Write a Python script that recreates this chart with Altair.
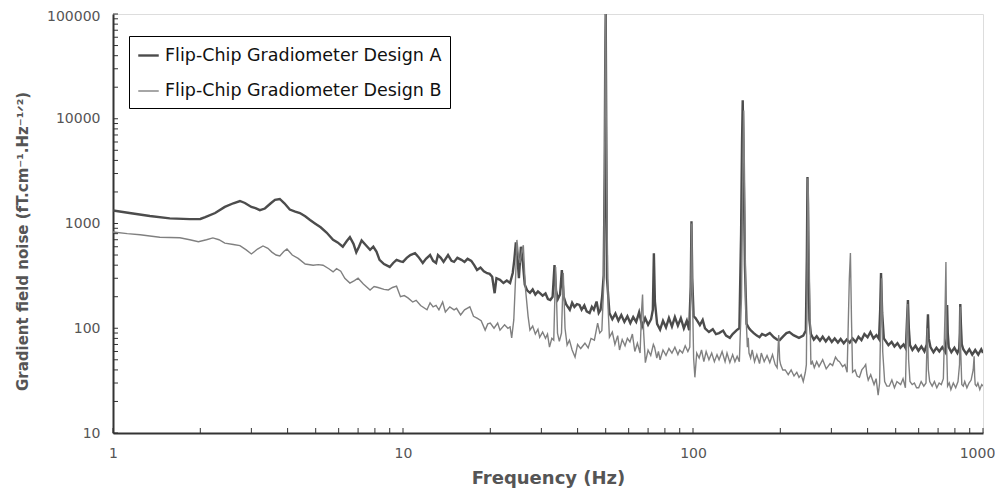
import altair as alt
import pandas as pd

series_names = ["Flip-Chip Gradiometer Design A", "Flip-Chip Gradiometer Design B"]

freq_a = [1.00, 1.14, 1.34, 1.57, 1.84, 2.0, 2.08, 2.25, 2.43, 2.6, 2.74, 2.85, 3.0, 3.1, 3.21, 3.34, 3.5, 3.62,
          3.76, 3.9, 4.07, 4.25, 4.41, 4.6, 4.78, 5.0, 5.2, 5.45, 5.74, 5.95, 6.2, 6.4, 6.56, 6.75, 6.9, 7.05, 7.2,
          7.45, 7.7, 7.9, 8.1, 8.3, 8.6, 9.0, 9.25, 9.5, 9.8, 10.0, 10.3, 10.6, 11.0, 11.3, 11.7, 12.0, 12.4, 12.7,
          13.0, 13.2, 13.5, 13.8, 14.3, 14.7, 15.0, 15.4, 15.9, 16.3, 16.7, 17.2, 17.6, 18.0, 18.5, 19.0, 19.5,
          19.9, 20.3, 20.7, 21.0, 21.6, 22.2, 22.8, 23.4, 23.9, 24.2, 24.5, 24.8, 25.1, 25.5, 25.9, 26.3, 26.8,
          27.4, 28.0, 28.6, 29.2, 29.6, 30.3, 31.0, 31.6, 32.2, 32.8, 33.3, 33.7, 34.2, 34.8, 35.3, 35.8, 36.5,
          37.6, 38.3, 39.0, 39.8, 40.6, 41.3, 42.2, 43.0, 44.0, 44.8, 45.5, 46.5, 47.3, 48.0, 48.6, 49.2, 49.6,
          49.8, 50.0, 50.5, 51.5, 52.7, 54.0, 55.3, 56.6, 58.0, 59.4, 60.8, 62.2, 63.7, 65.2, 66.8, 68.4, 70.0,
          71.7, 72.7, 73.3, 73.9, 75.2, 77.0, 78.8, 80.7, 82.6, 84.6, 86.6, 88.7, 90.8, 93.0, 95.2, 97.0, 98.2,
          98.8, 99.4, 100.5, 102.0, 104.0, 105.6, 108.0, 110.0, 113.5, 117.0, 120.0, 123.0, 127.0, 130.0, 134.0,
          137.0, 141.5, 144.5, 146.5, 147.6, 148.4, 149.4, 151.0, 153.0, 156.0, 158.0, 162.0, 166.0, 169.6, 173.0,
          178.0, 184.0, 190.0, 195.0, 199.0, 205.0, 210.0, 215.0, 222.0, 232.0, 240.0, 245.0, 247.0, 248.2, 249.5,
          252.0, 255.0, 261.0, 267.0, 274.0, 280.0, 287.0, 294.0, 301.0, 308.0, 316.0, 323.0, 331.0, 339.0, 347.0,
          355.0, 364.0, 372.0, 381.0, 390.0, 400.0, 409.0, 419.0, 429.0, 438.0, 442.0, 445.0, 449.0, 455.0, 461.0,
          472.0, 484.0, 495.0, 507.0, 519.0, 532.0, 542.0, 547.0, 551.0, 555.0, 560.0, 571.0, 585.0, 599.0, 613.0,
          628.0, 640.0, 646.0, 650.0, 659.0, 675.0, 691.0, 707.0, 724.0, 742.0, 749.0, 752.0, 756.0, 762.0, 778.0,
          797.0, 816.0, 828.0, 832.0, 835.0, 839.0, 845.0, 855.0, 876.0, 897.0, 918.0, 940.0, 963.0, 986.0, 1000.0]
noise_a = [1330, 1260, 1180, 1120, 1100, 1105, 1150, 1260, 1440, 1560, 1640, 1570, 1440, 1400, 1340, 1390, 1560, 1680,
           1715, 1560, 1360, 1300, 1260, 1170, 1080, 990, 920, 820, 700, 660, 600, 680, 740, 640, 530, 600, 690,
           620, 560, 600, 540, 450, 410, 385, 420, 450, 435, 430, 470, 500, 520, 480, 420, 460, 500, 440,
           420, 500, 470, 430, 500, 440, 430, 470, 450, 430, 460, 440, 400, 360, 380, 350, 335,
           330, 310, 216, 300, 290, 270, 285, 270, 337, 450, 660, 480, 300, 600, 420, 260, 230,
           218, 235, 210, 225, 218, 205, 215, 190, 186, 200, 400, 230, 190, 210, 360, 200, 170,
           150, 175, 160, 170, 167, 150, 165, 145, 140, 160, 150, 180, 140, 150, 200, 320, 3000,
           30000, 100000, 300, 140, 122, 138, 118, 134, 115, 130, 112, 128, 115, 142, 104, 125, 108,
           122, 150, 520, 180, 110, 97, 118, 102, 125, 104, 128, 106, 125, 100, 118, 96, 250,
           1050, 300, 130, 125, 115, 107, 120, 100, 92, 98, 88, 90, 95, 85, 81,
           88, 96, 100, 800, 6000, 15000, 4000, 400, 110, 100, 96, 90, 85, 82, 88,
           85, 90, 82, 78, 77, 84, 90, 92, 86, 81, 85, 95, 500, 2780, 700,
           120, 88, 78, 84, 76, 83, 75, 82, 74, 80, 73, 79, 72, 78, 73,
           80, 74, 83, 77, 88, 82, 92, 80, 86, 79, 150, 337, 140, 80, 76,
           69, 74, 67, 72, 65, 70, 64, 120, 186, 100, 69, 62, 68, 61, 67,
           60, 70, 136, 80, 66, 59, 65, 60, 66, 59, 80, 167, 90, 66, 59,
           65, 58, 64, 90, 170, 110, 70, 63, 57, 63, 56, 62, 56, 63, 58]

freq_b = [1.0, 1.12, 1.24, 1.34, 1.45, 1.57, 1.7, 1.84, 1.97, 2.1, 2.21, 2.32, 2.43, 2.6, 2.74, 2.88, 3.0, 3.15,
          3.29, 3.42, 3.53, 3.65, 3.76, 3.88, 3.98, 4.15, 4.35, 4.6, 4.9, 5.1, 5.3, 5.55, 5.74, 5.9, 6.1, 6.3,
          6.56, 6.8, 7.0, 7.3, 7.7, 7.95, 8.2, 8.6, 8.9, 9.2, 9.5, 9.8, 10.1, 10.4, 10.8, 11.1, 11.5, 12.1, 12.4,
          12.7, 13.0, 13.3, 13.7, 14.0, 14.5, 15.0, 15.3, 15.8, 16.3, 17.0, 17.5, 18.0, 18.6, 19.2, 19.6, 20.0,
          20.6, 21.2, 21.6, 22.4, 23.0, 23.4, 23.7, 24.1, 24.5, 24.7, 25.0, 25.3, 25.7, 26.0, 26.4, 27.0, 27.4,
          28.0, 28.6, 29.2, 29.6, 30.3, 31.0, 31.5, 32.0, 32.6, 33.1, 33.6, 34.1, 34.6, 35.2, 35.7, 36.2, 36.8,
          37.5, 38.3, 39.2, 40.0, 41.0, 42.4, 43.5, 44.5, 45.7, 46.9, 47.7, 48.5, 49.2, 49.6, 49.8, 50.0, 50.4,
          51.0, 51.5, 52.7, 53.8, 55.0, 55.8, 57.0, 58.3, 59.4, 60.6, 61.8, 63.0, 64.3, 65.7, 66.5, 67.0, 67.6,
          68.5, 70.0, 71.5, 73.0, 73.7, 75.0, 76.0, 77.0, 78.8, 80.7, 82.6, 84.6, 86.6, 88.7, 90.0, 92.0, 94.0,
          96.0, 97.5, 98.4, 99.0, 99.6, 100.5, 101.5, 103.0, 105.0, 107.0, 109.0, 111.0, 113.5, 116.0, 118.5,
          121.0, 123.0, 126.0, 129.0, 131.0, 134.0, 137.0, 139.5, 142.0, 144.5, 147.0, 148.8, 149.6, 150.5, 152.0,
          154.0, 155.0, 156.0, 158.0, 160.0, 163.0, 166.0, 169.6, 172.0, 176.0, 180.0, 184.0, 188.0, 192.0, 195.0,
          197.5, 199.0, 200.5, 204.0, 208.0, 213.0, 218.0, 223.0, 228.0, 232.0, 236.0, 240.0, 244.0, 246.0, 248.0,
          249.0, 250.5, 252.0, 255.0, 258.0, 262.0, 267.0, 272.0, 280.0, 288.0, 297.0, 303.0, 310.0, 316.0, 320.0,
          328.0, 334.0, 340.0, 346.0, 349.0, 352.0, 355.0, 362.0, 368.0, 375.0, 382.0, 390.0, 394.0, 398.0, 402.0,
          410.0, 421.0, 428.0, 435.0, 440.0, 444.0, 447.0, 451.0, 458.0, 466.0, 475.0, 485.0, 495.0, 505.0, 520.0,
          530.0, 540.0, 546.0, 550.0, 554.0, 560.0, 570.0, 580.0, 590.0, 600.0, 612.0, 625.0, 636.0, 643.0, 648.0,
          655.0, 668.0, 680.0, 693.0, 706.0, 718.0, 730.0, 740.0, 745.0, 750.0, 755.0, 765.0, 775.0, 790.0, 805.0,
          820.0, 830.0, 834.0, 838.0, 845.0, 855.0, 865.0, 880.0, 895.0, 910.0, 925.0, 932.0, 936.0, 940.0, 950.0,
          960.0, 975.0, 990.0, 1000.0]
noise_b = [830, 800, 780, 760, 740, 735, 730, 700, 670, 700, 728, 700, 650, 630, 615, 560, 512, 570,
           610, 580, 533, 500, 490, 540, 570, 500, 465, 410, 400, 405, 400, 370, 345, 370, 350, 300,
           270, 285, 300, 265, 232, 250, 245, 235, 232, 245, 252, 200, 205, 195, 178, 185, 165, 150, 175,
           160, 165, 150, 178, 143, 160, 150, 155, 134, 150, 160, 130, 125, 118, 96, 110, 112,
           100, 112, 96, 108, 100, 103, 81, 120, 350, 697, 500, 420, 550, 620, 250, 130, 96,
           105, 88, 98, 82, 92, 80, 88, 66, 80, 77, 385, 90, 75, 90, 337, 100, 69,
           77, 62, 53, 70, 64, 72, 65, 80, 77, 112, 90, 95, 250, 5000, 40000, 100000, 2000,
           150, 82, 92, 70, 85, 62, 78, 68, 80, 74, 88, 60, 72, 58, 150, 210, 90,
           47, 62, 55, 70, 66, 52, 60, 50, 62, 55, 64, 58, 66, 56, 62, 58, 68,
           60, 66, 300, 1000, 200, 52, 34, 58, 52, 62, 48, 60, 50, 58, 48,
           56, 50, 60, 48, 58, 47, 56, 48, 54, 48, 200, 5000, 12000, 3000, 150,
           66, 81, 58, 52, 62, 48, 56, 46, 58, 48, 55, 47, 56, 45, 42,
           86, 50, 45, 40, 40, 36, 40, 35, 38, 34, 36, 31, 38, 45, 600,
           2700, 1500, 300, 45, 48, 42, 48, 43, 50, 41, 46, 44, 53, 49, 48,
           43, 45, 38, 300, 522, 120, 38, 40, 35, 34, 40, 43, 45, 36, 32,
           36, 29, 33, 23, 30, 120, 300, 60, 31, 28, 28, 32, 27, 31, 29,
           33, 27, 100, 170, 50, 31, 29, 30, 27, 27, 31, 28, 30, 100, 40,
           31, 28, 31, 27, 30, 29, 33, 150, 429, 60, 28, 30, 26, 30, 27,
           31, 45, 160, 60, 29, 28, 31, 27, 30, 32, 40, 54, 35, 29, 28,
           30, 26, 29, 28]

y_ticks = [10, 20, 30, 40, 50, 60, 70, 80, 90, 100, 200, 300, 400, 500, 600, 700, 800, 900,
           1000, 2000, 3000, 4000, 5000, 6000, 7000, 8000, 9000, 10000, 20000, 30000, 40000, 50000,
           60000, 70000, 80000, 90000, 100000]
x_ticks = [1, 2, 3, 4, 5, 6, 7, 8, 9, 10, 20, 30, 40, 50, 60, 70, 80, 90,
           100, 200, 300, 400, 500, 600, 700, 800, 900, 1000]
y_labels = [10, 100, 1000, 10000, 100000]
x_labels = [1, 10, 100, 1000]

df = pd.concat([
    pd.DataFrame({"freq": freq_a, "noise": noise_a, "series": series_names[0], "k": 0}),
    pd.DataFrame({"freq": freq_b, "noise": noise_b, "series": series_names[1], "k": 1}),
], ignore_index=True)

xscale = alt.Scale(type="log", domain=[1, 1000], nice=False)
yscale = alt.Scale(type="log", domain=[10, 100000], nice=False)

FONT = "DejaVu Sans"

lines = alt.Chart(df).mark_line(clip=True).encode(
    x=alt.X("freq:Q", scale=xscale,
            axis=alt.Axis(values=x_labels, format="d", tickSize=0, grid=False, labelFlush=False,
                          domainColor="#333", domainWidth=2, labelColor="#555",
                          labelFont=FONT, labelFontSize=14, labelPadding=13,
                          labelOffset={"condition": {"test": "datum.value == 1000", "value": -6}, "value": 0},
                          title="Frequency (Hz)", titleFont=FONT, titleFontSize=18,
                          titleFontWeight="bold", titleColor="#555", titlePadding=9)),
    y=alt.Y("noise:Q", scale=yscale,
            axis=alt.Axis(values=y_labels, format="d", tickSize=0, grid=False,
                          domainColor="#333", domainWidth=2, labelColor="#555",
                          labelFont=FONT, labelFontSize=14, labelPadding=13,
                          labelOffset={"condition": {"test": "datum.value == 100000", "value": 2}, "value": 0},
                          title="Gradient field noise (fT.cm\u207b\u00b9.Hz\u207b\u00b9\u141f\u00b2)",
                          titleFont=FONT, titleFontSize=15, titleFontWeight="bold",
                          titleColor="#555", titlePadding=16, titleY=227)),
    color=alt.Color("series:N", scale=alt.Scale(domain=series_names, range=["#4c4c4c", "#808080"]),
                    legend=alt.Legend(title=None, orient="none", legendX=16, legendY=22,
                                      strokeColor="black", fillColor="white", padding=8,
                                      labelFont=FONT, labelFontSize=17.5, labelColor="#111",
                                      labelLimit=500, symbolType="stroke", symbolSize=420,
                                      rowPadding=16, labelOffset=5, cornerRadius=0)),
    strokeWidth=alt.StrokeWidth("series:N", scale=alt.Scale(domain=series_names, range=[2.4, 1.4]),
                                legend=alt.Legend(title=None, orient="none", legendX=16, legendY=22)),
    order=alt.Order("k:Q"),
)

yt = alt.Chart(pd.DataFrame({"v": y_ticks})).mark_rule(color="#333", strokeWidth=1).encode(
    y=alt.Y("v:Q", scale=yscale), x=alt.value(0), x2=alt.value(5))
xt = alt.Chart(pd.DataFrame({"f": x_ticks})).mark_rule(color="#333", strokeWidth=1).encode(
    x=alt.X("f:Q", scale=xscale), y=alt.value(419), y2=alt.value(414))

chart = alt.layer(lines, yt, xt).properties(
    width=870, height=419,
    padding={"left": 105, "top": 6, "right": 12, "bottom": 55},
    autosize=alt.AutoSizeParams(type="none"),
).configure_view(stroke="#999", strokeWidth=1.5).configure(background="white")

chart.save("out.html", embed_options={"renderer": "svg", "actions": False})
